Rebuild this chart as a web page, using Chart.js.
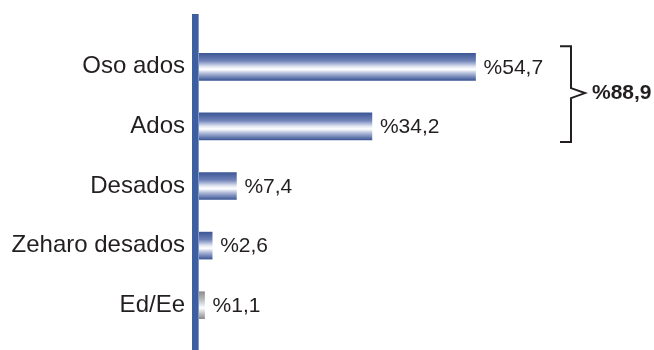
<!DOCTYPE html>
<html>
<head>
<meta charset="utf-8">
<script src="https://cdn.jsdelivr.net/npm/chart.js@4/dist/chart.umd.min.js"></script>
<style>
  html, body { margin: 0; padding: 0; background: #fff; }
  #wrap { width: 654px; height: 350px; position: relative; }
</style>
</head>
<body>
<div id="wrap"><canvas id="chartSurvey"></canvas></div>
<script>
/* survey results – horizontal bars with a grouped total */

const categories = ["Oso ados", "Ados", "Desados", "Zeharo desados", "Ed/Ee"];
const percents = [54.7, 34.2, 7.4, 2.6, 1.1];
// the first two answers are summed under the bracket
const groupedIdx = [0, 1];

const TEXT = "#231f20";
const FONT = "'Liberation Sans', Arial, sans-serif";

const fmtPct = (v) => "%" + v.toFixed(1).replace(".", ",");

// vertical shine gradient for each bar, grey for the last one
function barFill(context) {
  const chart = context.chart;
  const { ctx, chartArea, scales } = chart;
  if (!chartArea) return "#3d5796";
  const yc = scales.y.getPixelForValue(context.dataIndex);
  const top = yc - 13.5, bottom = yc + 13.5;
  const g = ctx.createLinearGradient(0, top, 0, bottom);
  const grey = context.dataIndex === categories.length - 1;
  const edge = grey ? "#8c8c8c" : "#3d5796";
  const mid = grey ? "#b9b9b9" : "#7083b8";
  const soft = grey ? "#d0d0d0" : "#a9b5d6";
  g.addColorStop(0, edge);
  g.addColorStop(0.28, mid);
  g.addColorStop(0.5, "#e4e8f3");
  g.addColorStop(0.6, "#ffffff");
  g.addColorStop(0.76, soft);
  g.addColorStop(1, edge);
  return g;
}

// thick axis line, value labels and the bracket with its total
const decorations = {
  id: "decorations",
  afterDatasetsDraw(chart) {
    const { ctx } = chart;
    const bars = chart.getDatasetMeta(0).data;

    ctx.save();
    ctx.fillStyle = "#3e5f9f";
    ctx.fillRect(192, 14, 6, 336);
    ctx.fillStyle = "#7d98c9";
    ctx.fillRect(198, 14, 1, 336);

    ctx.fillStyle = TEXT;
    ctx.font = "21px " + FONT;
    ctx.textAlign = "left";
    ctx.textBaseline = "middle";
    bars.forEach((bar, i) => {
      ctx.fillText(fmtPct(percents[i]), bar.x + 8, bar.y + 1);
    });

    const first = bars[groupedIdx[0]];
    const last = bars[groupedIdx[groupedIdx.length - 1]];
    const top = first.y - first.height / 2 - 7;
    const bottom = last.y + last.height / 2 + 2;
    const tipY = (top + bottom) / 2 - 1;
    const xl = 560, xs = 571, xt = 585;

    ctx.strokeStyle = "#231f20";
    ctx.lineWidth = 2;
    ctx.lineJoin = "miter";
    ctx.beginPath();
    ctx.moveTo(xl, top);
    ctx.lineTo(xs, top);
    ctx.lineTo(xs, tipY - 5);
    ctx.lineTo(xt, tipY);
    ctx.lineTo(xs, tipY + 5);
    ctx.lineTo(xs, bottom);
    ctx.lineTo(xl, bottom);
    ctx.stroke();

    const total = groupedIdx.reduce((s, i) => s + percents[i], 0);
    ctx.font = "bold 21px " + FONT;
    ctx.fillText(fmtPct(total), 592, tipY);
    ctx.restore();
  },
};

new Chart(document.getElementById("chartSurvey"), {
  type: "bar",
  data: {
    labels: categories,
    datasets: [
      {
        data: percents,
        backgroundColor: barFill,
        borderWidth: 0,
        barThickness: 27,
      },
    ],
  },
  options: {
    indexAxis: "y",
    responsive: true,
    maintainAspectRatio: false,
    animation: false,
    layout: { padding: { top: 37, bottom: 15, right: 0, left: 0 } },
    scales: {
      x: { display: false, min: 0, max: 90 },
      y: {
        grid: { display: false, drawTicks: false },
        border: { display: false },
        ticks: {
          color: TEXT,
          padding: 14,
          font: { family: FONT, size: 24 },
        },
        afterFit: (scale) => {
          scale.width = 199;
          // labels sit inside the bands, no extra room needed
          scale.paddingTop = 0;
          scale.paddingBottom = 0;
        },
      },
    },
    plugins: {
      legend: { display: false },
      tooltip: { enabled: false },
    },
  },
  plugins: [decorations],
});
</script>
</body>
</html>
